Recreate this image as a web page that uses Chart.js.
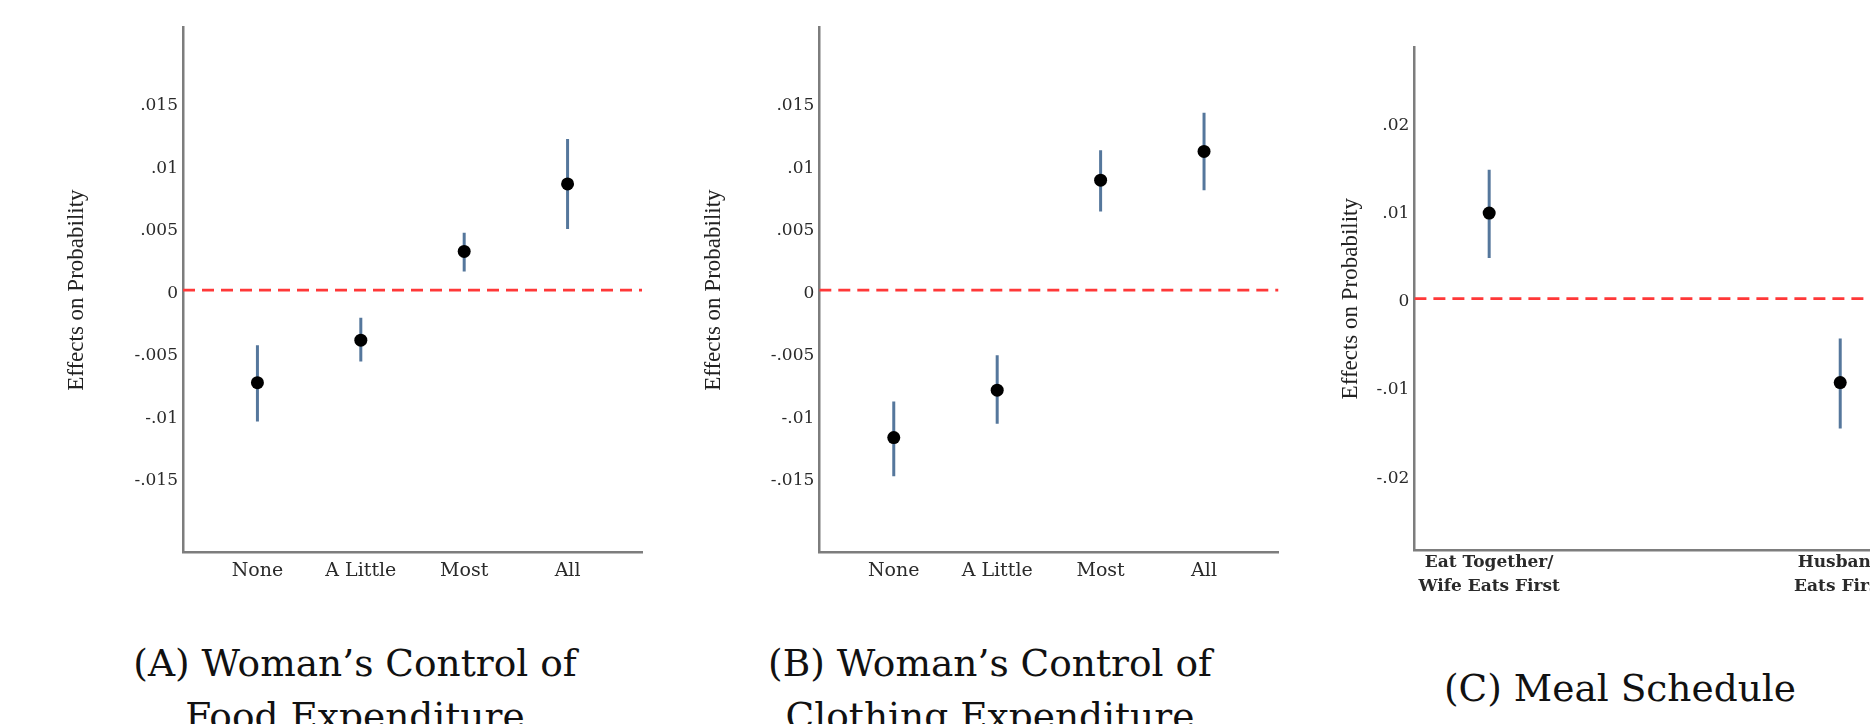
<!DOCTYPE html>
<html>
<head>
<meta charset="utf-8">
<title>Effects on Probability</title>
<script src="https://cdn.jsdelivr.net/npm/chart.js@4.4.1/dist/chart.umd.min.js"></script>
<style>
  html, body { margin: 0; padding: 0; background: #fff; }
  #page { position: relative; width: 1870px; height: 724px; overflow: hidden; background: #fff; }
  .panel { position: absolute; top: 0; }
  .caption {
    position: absolute; width: 700px; text-align: center; white-space: nowrap;
    font-family: 'DejaVu Serif', serif; font-size: 37.5px; line-height: 53px; color: #111;
  }
</style>
</head>
<body>
<div id="page">
  <canvas id="chartFood" class="panel" width="680" height="610" style="left:0px"></canvas>
  <canvas id="chartClothing" class="panel" width="640" height="610" style="left:680px"></canvas>
  <canvas id="chartMeal" class="panel" width="640" height="610" style="left:1320px"></canvas>

  <div class="caption" style="left:5px; top:637px">(A) Woman’s Control of<br>Food Expenditure</div>
  <div class="caption" style="left:640px; top:637px">(B) Woman’s Control of<br>Clothing Expenditure</div>
  <div class="caption" style="left:1270px; top:662px">(C) Meal Schedule</div>
</div>

<script>
// ---- data ----
const expenditureCategories = ['None', 'A Little', 'Most', 'All'];

const foodEstimates = [-0.0074, -0.0040, 0.0031, 0.0085];
const foodLower     = [-0.0105, -0.0057, 0.0015, 0.0049];
const foodUpper     = [-0.0044, -0.0022, 0.0046, 0.0121];

const clothingEstimates = [-0.0118, -0.0080, 0.0088, 0.0111];
const clothingLower     = [-0.0149, -0.0107, 0.0063, 0.0080];
const clothingUpper     = [-0.0089, -0.0052, 0.0112, 0.0142];

const mealCategories = [['Eat Together/', 'Wife Eats First'], ['Husband', 'Eats First']];
const mealEstimates = [0.0097, -0.0095];
const mealLower     = [0.0046, -0.0147];
const mealUpper     = [0.0146, -0.0045];

const expenditureTicks      = [-0.015, -0.01, -0.005, 0, 0.005, 0.01, 0.015];
const expenditureTickLabels = ['-.015', '-.01', '-.005', '0', '.005', '.01', '.015'];
const mealTicks      = [-0.02, -0.01, 0, 0.01, 0.02];
const mealTickLabels = ['-.02', '-.01', '0', '.01', '.02'];

const yAxisTitle = 'Effects on Probability';

// ---- drawing ----
function buildPanel(canvasId, categories, est, lo, hi, yTicks, yTickLabels, look) {
  const positions = categories.map((_, i) => i + 1);

  const points = positions.map((x, i) => ({ x: x, y: est[i] }));
  const intervals = [];
  positions.forEach((x, i) => {
    intervals.push({ x: x, y: lo[i] }, { x: x, y: hi[i] }, { x: x, y: null });
  });
  const zeroLine = [{ x: look.xMin, y: 0 }, { x: look.xMax, y: 0 }];

  new Chart(document.getElementById(canvasId), {
    type: 'scatter',
    data: {
      datasets: [
        { type: 'scatter', data: points, order: 0,
          pointRadius: 6.5, pointBackgroundColor: '#000', pointBorderWidth: 0, pointBorderColor: '#000' },
        { type: 'line', data: intervals, order: 1, spanGaps: false,
          borderColor: '#55779c', borderWidth: 3, borderCapStyle: 'butt', pointRadius: 0, tension: 0 },
        { type: 'line', data: zeroLine, order: 2,
          borderColor: '#ff3838', borderWidth: 2.7, borderDash: [12, 7], pointRadius: 0 }
      ]
    },
    options: {
      responsive: false,
      animation: false,
      events: [],
      layout: { padding: { top: look.padTop, right: look.padRight, bottom: 0, left: 0 } },
      plugins: { legend: { display: false }, tooltip: { enabled: false } },
      scales: {
        x: {
          type: 'linear',
          min: look.xMin, max: look.xMax,
          grid: { display: false, drawTicks: false },
          border: { display: true, color: '#7d7d7d', width: 2.5 },
          afterBuildTicks: s => { s.ticks = positions.map(v => ({ value: v })); },
          afterFit: s => { s.height = look.xAxisHeight; },
          ticks: {
            autoSkip: false, maxRotation: 0,
            padding: look.xLabelPad,
            color: '#2a2a2a',
            font: look.xFont,
            callback: v => categories[positions.indexOf(v)]
          }
        },
        y: {
          type: 'linear',
          min: -look.yRange, max: look.yRange,
          grid: { display: false, drawTicks: false },
          border: { display: true, color: '#7d7d7d', width: 2.5 },
          afterBuildTicks: s => { s.ticks = yTicks.map(v => ({ value: v })); },
          afterFit: s => { s.width = look.yAxisWidth; },
          ticks: {
            padding: 5,
            labelOffset: 3,
            color: '#2a2a2a',
            font: { family: 'DejaVu Serif', size: 17 },
            callback: v => yTickLabels[yTicks.indexOf(v)]
          },
          title: {
            display: true,
            text: yAxisTitle,
            color: '#222',
            font: { family: 'Liberation Serif', size: 23 },
            padding: { top: look.titlePad, bottom: 0 }
          }
        }
      }
    }
  });
}

buildPanel('chartFood', expenditureCategories, foodEstimates, foodLower, foodUpper,
  expenditureTicks, expenditureTickLabels,
  { xMin: 0.28, xMax: 4.72, yRange: 0.021, padTop: 27.7, padRight: 38,
    yAxisWidth: 183, xAxisHeight: 57.4, titlePad: 63, xLabelPad: 7,
    xFont: { family: 'DejaVu Serif', size: 19 } });

buildPanel('chartClothing', expenditureCategories, clothingEstimates, clothingLower, clothingUpper,
  expenditureTicks, expenditureTickLabels,
  { xMin: 0.28, xMax: 4.72, yRange: 0.021, padTop: 27.7, padRight: 41.5,
    yAxisWidth: 139.3, xAxisHeight: 57.4, titlePad: 19.8, xLabelPad: 7,
    xFont: { family: 'DejaVu Serif', size: 19 } });

buildPanel('chartMeal', mealCategories, mealEstimates, mealLower, mealUpper,
  mealTicks, mealTickLabels,
  { xMin: 0.787, xMax: 2.213, yRange: 0.0285, padTop: 47.1, padRight: 45,
    yAxisWidth: 94.4, xAxisHeight: 59.7, titlePad: 16.9, xLabelPad: 1,
    xFont: { family: 'DejaVu Serif', size: 17, weight: 'bold', lineHeight: 1.38 } });
</script>
</body>
</html>
